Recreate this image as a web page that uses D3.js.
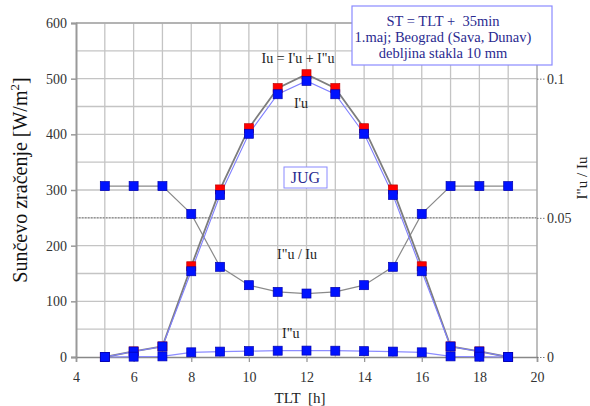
<!DOCTYPE html>
<html>
<head>
<meta charset="utf-8">
<script src="https://cdn.jsdelivr.net/npm/d3@7"></script>
<style>
  body { margin: 0; background: #fff; }
  svg text { font-family: "Liberation Serif", "Times New Roman", "DejaVu Serif", serif !important; white-space: pre; }
</style>
</head>
<body>
<svg id="chart" width="590" height="406"></svg>
<script>
// Solar time (h)
const hours = [5, 6, 7, 8, 9, 10, 11, 12, 13, 14, 15, 16, 17, 18, 19];
// Total irradiance Iu = I'u + I"u  [W/m2]
const iuTotal = [0, 10, 19, 163, 301, 411, 483, 508, 483, 411, 301, 163, 19, 10, 0];
// I'u component [W/m2]
const iuPrime = [0, 9.9, 18.9, 154, 291, 401, 472, 496, 472, 401, 291, 154, 18.9, 9.9, 0];
// I"u component [W/m2]
const iuDouble = [0, 0.6, 1.1, 8.4, 9.7, 10.6, 11.3, 11.5, 11.3, 10.5, 9.7, 8.4, 1.1, 0.6, 0];
// Ratio I"u / Iu (right axis)
const ratio = [0.0614, 0.0614, 0.0614, 0.0514, 0.0324, 0.0258, 0.0234, 0.0228, 0.0234, 0.0258, 0.0324, 0.0514, 0.0614, 0.0614, 0.0614];

const xTicks = [4, 6, 8, 10, 12, 14, 16, 18, 20];
const yTicks = [0, 100, 200, 300, 400, 500, 600];
const yRightTicks = [0, 0.05, 0.1];
const infoLines = ["ST = TLT +  35min", "1.maj; Beograd (Sava, Dunav)", "debljina stakla 10 mm"];

const FONT = "'Liberation Serif', 'Times New Roman', 'DejaVu Serif', serif";
const svg = d3.select("#chart");
const L = 76, R = 537, T = 23, B = 357;

const x = d3.scaleLinear().domain([4, 20]).range([L, R]);
const y = d3.scaleLinear().domain([0, 600]).range([B, T]);
const yR = d3.scaleLinear().domain([0, 0.12]).range([B, T]);

// grid
const grid = svg.append("g");
grid.selectAll("line.v").data(d3.range(5, 20)).join("line")
  .attr("x1", d => x(d)).attr("x2", d => x(d)).attr("y1", T).attr("y2", B)
  .attr("stroke", "#c4c4c4").attr("stroke-width", 1.3);
grid.selectAll("line.h").data(d3.range(50, 601, 50)).join("line")
  .attr("x1", L).attr("x2", R).attr("y1", d => y(d)).attr("y2", d => y(d))
  .attr("stroke", "#c4c4c4").attr("stroke-width", 1.3);

// dotted reference at 0.05 on the right scale
svg.append("line").attr("x1", L).attr("x2", R)
  .attr("y1", yR(0.05)).attr("y2", yR(0.05))
  .attr("stroke", "#777").attr("stroke-width", 1).attr("stroke-dasharray", "1.5,1.5");

// frame
svg.append("line").attr("x1", R).attr("x2", R).attr("y1", T).attr("y2", B).attr("stroke", "#a8a8a8").attr("stroke-width", 1.5);
svg.append("line").attr("x1", L).attr("x2", R).attr("y1", T).attr("y2", T).attr("stroke", "#a8a8a8").attr("stroke-width", 1.5);

function styleTicks(g) {
  g.attr("font-family", FONT);
  g.selectAll(".tick text").attr("fill", "#333").attr("font-family", FONT).attr("font-size", 14);
}

// left axis
const yAxis = d3.axisLeft(y).tickValues(yTicks).tickSize(5).tickPadding(4);
const gy = svg.append("g").attr("transform", `translate(${L},0)`).call(yAxis);
gy.select(".domain").attr("stroke", "#999").attr("stroke-width", 2);
gy.selectAll(".tick line").attr("stroke", "#999").attr("stroke-width", 1.5);
styleTicks(gy);

// bottom axis
const xAxis = d3.axisBottom(x).tickValues(xTicks).tickSize(5).tickPadding(10);
const gx = svg.append("g").attr("transform", `translate(0,${B})`).call(xAxis);
gx.select(".domain").attr("stroke", "#888").attr("stroke-width", 1.5);
gx.selectAll(".tick line").attr("stroke", "#999").attr("stroke-width", 1.3);
styleTicks(gx);

// right axis with dotted tick leaders
const yAxisR = d3.axisRight(yR).tickValues(yRightTicks).tickSize(8).tickPadding(2)
  .tickFormat(d => d === 0 ? "0" : String(d));
const gr = svg.append("g").attr("transform", `translate(${R},0)`).call(yAxisR);
gr.select(".domain").remove();
gr.selectAll(".tick line").attr("stroke", "#777").attr("stroke-width", 1).attr("stroke-dasharray", "1.5,1.5");
styleTicks(gr);

// series lines
const lineL = d3.line().x((d, i) => x(hours[i])).y(d => y(d));
const lineR = d3.line().x((d, i) => x(hours[i])).y(d => yR(d));

svg.append("path").datum(ratio).attr("d", lineR)
  .attr("fill", "none").attr("stroke", "#8a8a8a").attr("stroke-width", 1.2);
svg.append("path").datum(iuDouble).attr("d", lineL)
  .attr("fill", "none").attr("stroke", "#8c8cff").attr("stroke-width", 1.2);
svg.append("path").datum(iuTotal).attr("d", lineL)
  .attr("fill", "none").attr("stroke", "#7d7d7d").attr("stroke-width", 1.8);
svg.append("path").datum(iuPrime).attr("d", lineL)
  .attr("fill", "none").attr("stroke", "#8080ff").attr("stroke-width", 1.1);

// markers
const S = 9;
function squares(data, scale, fill, stroke) {
  svg.append("g").selectAll("rect").data(data).join("rect")
    .attr("x", (d, i) => x(hours[i]) - S / 2)
    .attr("y", d => scale(d) - S / 2)
    .attr("width", S).attr("height", S)
    .attr("fill", fill).attr("stroke", stroke).attr("stroke-width", 0.7);
}
squares(iuTotal, y, "#ff0000", "#c00000");
squares(iuPrime, y, "#0012ff", "#0000b0");
squares(iuDouble, y, "#0012ff", "#0000b0");
squares(ratio, yR, "#0012ff", "#0000b0");

function txt(parent, xp, yp, s, size, fill, anchor) {
  return parent.append("text").attr("x", xp).attr("y", yp)
    .attr("text-anchor", anchor || "middle").attr("fill", fill)
    .attr("font-family", FONT).attr("font-size", size)
    .attr("xml:space", "preserve").text(s);
}

// series labels
txt(svg, 298, 63, "Iu = I'u + I\"u", 14, "#222");
txt(svg, 301, 108, "I'u", 14, "#222");
txt(svg, 297, 259, "I\"u / Iu", 14, "#222");
txt(svg, 282, 338, "I\"u", 14, "#222", "start");

// orientation box
svg.append("rect").attr("x", 284).attr("y", 167).attr("width", 43).attr("height", 21)
  .attr("fill", "#fff").attr("stroke", "#8a8aff").attr("stroke-width", 1);
txt(svg, 305.5, 183, "JUG", 16, "#2a2a90");

// info box
svg.append("rect").attr("x", 352).attr("y", 6).attr("width", 200).attr("height", 59)
  .attr("fill", "#fff").attr("stroke", "#8a8aff").attr("stroke-width", 1.2);
infoLines.forEach((s, i) => txt(svg, 443, 26 + i * 16, s, 14.5, "#2a2a90"));

// axis titles
const yt = svg.append("text").attr("transform", "translate(27,180) rotate(-90)")
  .attr("text-anchor", "middle").attr("fill", "#111")
  .attr("font-family", FONT).attr("font-size", 20);
yt.append("tspan").text("Sunčevo zračenje [W/m");
yt.append("tspan").attr("dy", -8).attr("font-size", 13).text("2");
yt.append("tspan").attr("dy", 8).text("]");

svg.append("text").attr("transform", "translate(587,178) rotate(-90)")
  .attr("text-anchor", "middle").attr("fill", "#222")
  .attr("font-family", FONT).attr("font-size", 15).text("I\"u / Iu");

txt(svg, 300, 403, "TLT  [h]", 15, "#222");
</script>
</body>
</html>
